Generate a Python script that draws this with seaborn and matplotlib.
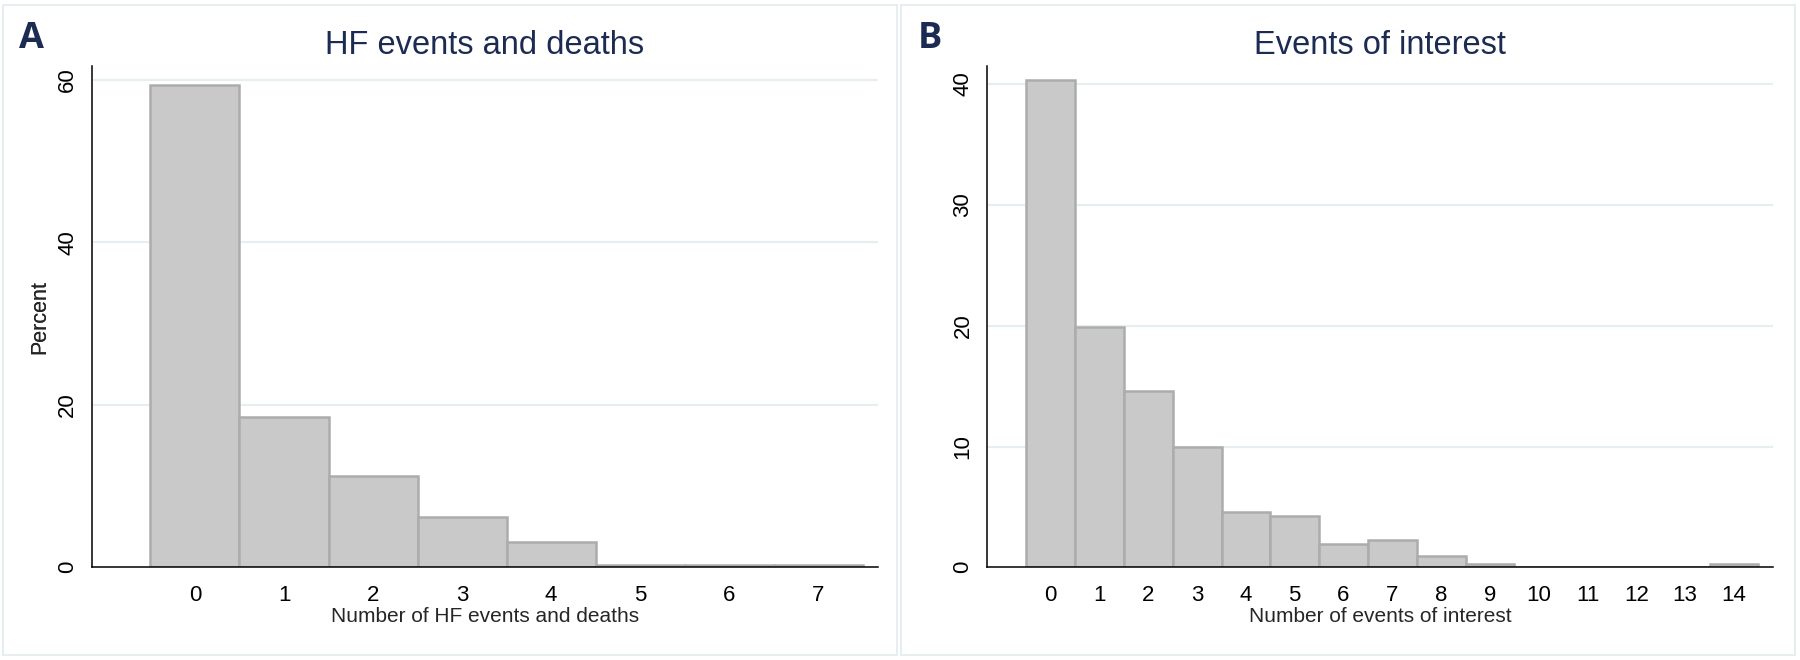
import matplotlib
matplotlib.use("Agg")
import matplotlib.pyplot as plt
import seaborn as sns
from matplotlib.patches import Rectangle

# panel A - HF events and deaths
hf_events = [0, 1, 2, 3, 4, 5, 6, 7]
hf_percent = [59.3, 18.5, 11.2, 6.2, 3.15, 0.3, 0.3, 0.3]

# panel B - events of interest
interest_events = [0, 1, 2, 3, 4, 5, 6, 7, 8, 9, 10, 11, 12, 13, 14]
interest_percent = [40.3, 19.9, 14.6, 9.94, 4.58, 4.25, 1.9, 2.26, 0.91, 0.25,
                    0, 0, 0, 0, 0.25]

hf_yticks = [0, 20, 40, 60]
interest_yticks = [0, 10, 20, 30, 40]

sns.set_style("white")
plt.rcParams['font.family'] = ['Liberation Sans', 'DejaVu Sans']

navy = "#1c2b52"
bar_fill = "#c9c9c9"
bar_edge = "#acacac"
grid_col = "#e6eef2"

W, H = 1800, 660
fig = plt.figure(figsize=(18, 6.6), dpi=100)

# light frames round each panel (Stata graph region)
for x0, x1 in [(3, 897), (901, 1795)]:
    fig.patches.append(Rectangle((x0 / W, 5 / H), (x1 - x0) / W, 650 / H,
                                 transform=fig.transFigure, fill=False,
                                 edgecolor="#e3ebee", linewidth=1.2))

panels = [
    dict(x=hf_events, y=hf_percent, left=92, right=878, xlim=(-1.156, 7.67),
         ylim=(0, 61.7), yticks=hf_yticks, title="HF events and deaths",
         xlabel="Number of HF events and deaths", letter="A", letter_x=31),
    dict(x=interest_events, y=interest_percent, left=987.3, right=1773,
         xlim=(-1.30, 14.8), ylim=(0, 41.5), yticks=interest_yticks,
         title="Events of interest", xlabel="Number of events of interest",
         letter="B", letter_x=930),
]

bottom_px, top_px = 567.3, 66

for p in panels:
    ax = fig.add_axes([p["left"] / W, (H - bottom_px) / H,
                       (p["right"] - p["left"]) / W, (bottom_px - top_px) / H])
    sns.histplot(x=p["x"], weights=p["y"], discrete=True, ax=ax,
                 color=bar_fill, edgecolor=bar_edge, linewidth=1.8, alpha=1,
                 zorder=2)
    ax.set_xlim(*p["xlim"])
    ax.set_ylim(*p["ylim"])
    ax.set_xticks(p["x"])
    ax.set_yticks(p["yticks"])
    for t in p["yticks"][1:]:
        ax.axhline(t, color=grid_col, linewidth=1.6, zorder=1)

    ax.spines["top"].set_visible(False)
    ax.spines["right"].set_visible(False)
    for s in ["left", "bottom"]:
        ax.spines[s].set_color("black")
        ax.spines[s].set_linewidth(1.1)
        ax.spines[s].set_zorder(3)
    ax.tick_params(axis="both", direction="out", length=5, width=1.1,
                   color="black", labelsize=16, labelcolor="black")
    ax.tick_params(axis="y", labelrotation=90, pad=5)
    ax.tick_params(axis="x", pad=8)
    for lab in ax.get_yticklabels():
        lab.set_va("center")

    ax.set_xlabel(p["xlabel"], fontsize=15)
    ax.xaxis.set_label_coords(0.5, -(617 - bottom_px) / (bottom_px - top_px))
    ax.xaxis.label.set_va("center")
    ax.set_ylabel("Percent", fontsize=15.5)
    ax.yaxis.set_label_coords(-(p["left"] - 40) / (p["right"] - p["left"]), 0.5)
    ax.yaxis.label.set_va("center")

    cx = (p["left"] + p["right"]) / 2
    fig.text(cx / W, 1 - 46 / H, p["title"], ha="center", va="center",
             fontsize=23.5, color=navy)
    fig.text(p["letter_x"] / W, 1 - 39 / H, p["letter"], ha="center",
             va="center", fontsize=26, fontweight="bold", color=navy,
             family=["Open Sans", "DejaVu Sans"])

fig.savefig("out.png", dpi=100, facecolor="white")
